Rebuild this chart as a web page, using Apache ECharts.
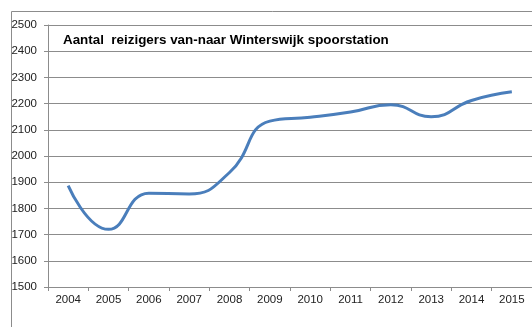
<!DOCTYPE html>
<html>
<head>
<meta charset="utf-8">
<script src="https://cdn.jsdelivr.net/npm/echarts@6/dist/echarts.min.js"></script>
<style>
  html, body { margin: 0; padding: 0; background: #fff; }
  #chart { width: 532px; height: 327px; }
</style>
</head>
<body>
<div id="chart"></div>
<script>
// Passengers to/from Winterswijk railway station, per year
const years = ['2004', '2005', '2006', '2007', '2008', '2009', '2010', '2011', '2012', '2013', '2014', '2015'];
const travellers = [1887, 1720, 1858, 1855, 1937, 2133, 2148, 2168, 2196, 2150, 2212, 2245];
const yTicks = { min: 1500, max: 2500, step: 100 };
const titleText = 'Aantal  reizigers van-naar Winterswijk spoorstation';

const chart = echarts.init(document.getElementById('chart'), null, { renderer: 'canvas' });
const gray = '#8c8c8c';
const font = '"Liberation Sans", Arial, sans-serif';

chart.setOption({
  animation: false,
  backgroundColor: '#fff',
  graphic: [
    // outer chart frame (top and left edges visible)
    { type: 'rect', shape: { x: 11.5, y: 11.5, width: 560, height: 360 },
      style: { fill: 'none', stroke: gray, lineWidth: 1 }, silent: true }
  ],
  title: {
    text: titleText,
    left: 58, top: 29,
    textStyle: { fontFamily: font, fontSize: 13.4, fontWeight: 'bold', color: '#000' }
  },
  grid: { left: 48, top: 25, right: -8, bottom: 40, containLabel: false },
  xAxis: {
    type: 'category',
    data: years,
    boundaryGap: true,
    axisLine: { lineStyle: { color: gray } },
    axisTick: { show: true, length: 4, lineStyle: { color: gray } },
    axisLabel: { fontFamily: font, fontSize: 11.5, color: '#222', margin: 7 },
    splitLine: { show: false }
  },
  yAxis: {
    type: 'value',
    min: yTicks.min, max: yTicks.max, interval: yTicks.step,
    axisLine: { show: true, lineStyle: { color: gray } },
    axisTick: { show: true, length: 4, lineStyle: { color: gray } },
    axisLabel: { fontFamily: font, fontSize: 11.5, color: '#222', margin: 11,
                 formatter: v => String(v) },
    splitLine: { show: true, lineStyle: { color: gray, width: 1 } }
  },
  series: [{
    type: 'line',
    data: travellers,
    smooth: 0.5,
    symbol: 'none',
    lineStyle: { color: '#4a7ebb', width: 3 }
  }]
});
</script>
</body>
</html>
